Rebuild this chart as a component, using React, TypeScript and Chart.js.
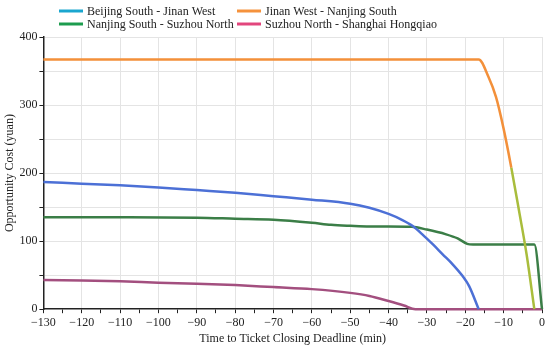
import React, { useEffect, useRef } from "react";
import { Chart, registerables } from "chart.js";

Chart.register(...registerables);

const seriesNames = [
  "Beijing South - Jinan West",
  "Jinan West - Nanjing South",
  "Nanjing South - Suzhou North",
  "Suzhou North - Shanghai Hongqiao",
];

const legendColors = ["#1aa6cf", "#f5923c", "#1d9c4e", "#e2467d"];
const lineColors = ["#4c70d6", "#f3903a", "#3b7e47", "#a34f7f"];

const beijingT = [-130, -120, -110, -100, -90, -80, -70, -60, -50, -45, -40, -36.4, -33.8, -31.2, -28.5, -25.9, -23.3, -20.7, -19, -16.5];
const beijingV = [187, 184.5, 182, 179, 175, 171, 166, 161, 155, 149, 140, 131, 122.5, 110, 95.5, 80.7, 66, 48.7, 34, 0];

const jinanT = [-130, -16.5, -14, -12, -10, -8, -6, -4, -2];
const jinanV = [367, 367, 342, 312, 265, 208, 145, 80, 0];

const nanjingT = [-130, -110, -90, -80, -70, -60, -55, -50, -45, -40, -34, -30, -25, -22, -19.5, -18, -2, 0];
const nanjingV = [135, 135, 134.5, 133, 131.5, 127, 124, 122.5, 121.5, 121.5, 121, 117, 110, 104, 96, 95, 95, 0];

const suzhouT = [-130, -120, -110, -100, -90, -80, -70, -60, -50, -45, -40, -36, -33, 0];
const suzhouV = [43, 42, 41, 39, 37.5, 35.5, 32.5, 29.5, 24, 19.5, 12, 5.5, 0, 0];

const xMin = -130;
const xMax = 0;
const yMin = 0;
const yMax = 400;

const toPts = (t: number[], v: number[]) => t.map((x, i) => ({ x, y: v[i] }));
const fmt = (v: number) => (v < 0 ? "\u2212" + Math.abs(v) : String(v));

const legendPlugin = {
  id: "customLegend",
  afterDraw(chart: any) {
    const ctx = chart.ctx;
    ctx.save();
    ctx.font = "12px 'Liberation Serif', serif";
    ctx.textBaseline = "middle";
    const cols = [59, 237];
    const rows = [11, 24];
    seriesNames.forEach((name, i) => {
      const x = cols[i % 2];
      const y = rows[Math.floor(i / 2)];
      ctx.strokeStyle = legendColors[i];
      ctx.lineWidth = 3;
      ctx.beginPath();
      ctx.moveTo(x, y);
      ctx.lineTo(x + 24, y);
      ctx.stroke();
      ctx.fillStyle = "#222";
      ctx.fillText(name, x + 28, y + 0.5);
    });
    ctx.restore();
  },
};

export default function App() {
  const ref = useRef<HTMLCanvasElement | null>(null);
  useEffect(() => {
    if (!ref.current) return;
    const font = { family: "'Liberation Serif', serif", size: 12 };
    const chart = new Chart(ref.current, {
      type: "line",
      data: {
        datasets: [
          { label: seriesNames[0], data: toPts(beijingT, beijingV), borderColor: lineColors[0] },
          {
            label: seriesNames[1],
            data: toPts(jinanT, jinanV),
            borderColor: lineColors[1],
            segment: {
              borderColor: (c: any) => (c.p0.parsed.y < 215 ? "#a9bd3c" : lineColors[1]),
            },
          },
          { label: seriesNames[2], data: toPts(nanjingT, nanjingV), borderColor: lineColors[2] },
          { label: seriesNames[3], data: toPts(suzhouT, suzhouV), borderColor: lineColors[3] },
        ].map((d: any) => ({
          ...d,
          borderWidth: 2.5,
          pointRadius: 0,
          fill: false,
          clip: false,
          cubicInterpolationMode: "monotone",
        })),
      },
      options: {
        animation: false,
        responsive: false,
        layout: { padding: { top: 37, right: 8, left: 3, bottom: 0 } },
        plugins: { legend: { display: false }, tooltip: { enabled: false } },
        scales: {
          x: {
            type: "linear",
            min: xMin,
            max: xMax,
            border: { color: "#222", width: 1.5 },
            grid: {
              color: (c: any) => (Math.abs(c.tick?.value % 10) < 0.01 && c.tick?.value !== xMin ? "#e4e4e4" : "rgba(0,0,0,0)"),
              tickColor: "#222",
              tickLength: 4,
            },
            ticks: {
              stepSize: 5,
              color: "#222",
              font,
              maxRotation: 0,
              autoSkip: false,
              padding: 2,
              callback: (v: any) => (Math.abs(v % 10) < 0.01 ? fmt(v) : ""),
            },
            title: { display: true, text: "Time to Ticket Closing Deadline (min)", color: "#222", font, padding: { top: 0, bottom: 0 } },
          },
          y: {
            min: yMin,
            max: yMax,
            border: { color: "#222", width: 1.5 },
            grid: {
              color: (c: any) => (c.tick?.value === 0 ? "rgba(0,0,0,0)" : "#e4e4e4"),
              tickColor: "#222",
              tickLength: 4,
            },
            ticks: {
              stepSize: 50,
              color: "#222",
              font,
              padding: 2,
              callback: (v: any) => (v % 100 === 0 ? String(v) : ""),
            },
            title: { display: true, text: "Opportunity Cost (yuan)", color: "#222", font, padding: { top: 0, bottom: 0 } },
          },
        },
      },
      plugins: [legendPlugin],
    });
    return () => chart.destroy();
  }, []);
  return (
    <div style={{ position: "fixed", left: 0, top: 0, width: 550, height: 346, background: "#fff" }}>
      <canvas ref={ref} width={550} height={346} style={{ width: 550, height: 346 }} />
    </div>
  );
}
